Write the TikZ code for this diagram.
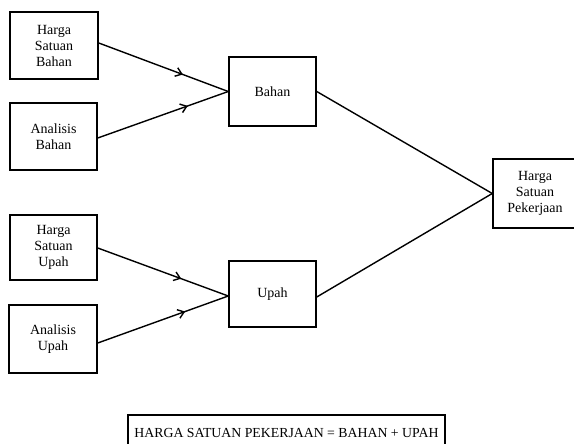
\documentclass[tikz,border=0pt]{standalone}
\usepackage{fontspec}
\setmainfont{Liberation Serif}
\usetikzlibrary{arrows.meta,decorations.markings}
\begin{document}
\begin{tikzpicture}[x=1pt,y=-1pt,
  box/.style={draw, line width=1.5pt, inner sep=0pt, align=center, font=\fontsize{14}{16}\selectfont},
  link/.style={line width=1.4pt},
  midarrow/.style={postaction={decorate}, decoration={markings, mark=at position #1 with {\arrow{Straight Barb[length=6pt,width=9pt,line width=1.4pt]}}}}
]
\useasboundingbox (0,0) rectangle (574,444);
\node[box, minimum width=88pt, minimum height=67pt] (hsb) at (54,45.5) {Harga\\Satuan\\Bahan};
\node[box, minimum width=87pt, minimum height=67pt] (ab) at (53.5,136.5) {Analisis\\Bahan};
\node[box, minimum width=87pt, minimum height=65pt] (hsu) at (53.5,247.5) {Harga\\Satuan\\Upah};
\node[box, minimum width=88pt, minimum height=68pt] (au) at (53,339) {Analisis\\Upah};
\node[box, minimum width=87pt, minimum height=69pt] (bahan) at (272.5,91.5) {Bahan};
\node[box, minimum width=87pt, minimum height=66pt] (upah) at (272.5,294) {Upah};
\node[box, minimum width=84pt, minimum height=69pt] (hsp) at (535,193.5) {Harga\\Satuan\\Pekerjaan};
\node[box, minimum width=317pt, minimum height=36pt, font=\fontsize{13.8}{16}\selectfont] (rumus) at (286.5,433) {HARGA SATUAN PEKERJAAN = BAHAN + UPAH};
\draw[link, midarrow=0.65] ([yshift=2.5pt]hsb.east) -- (bahan.west);
\draw[link, midarrow=0.69] ([yshift=-1.5pt]ab.east) -- (bahan.west);
\draw[link, midarrow=0.64] ([yshift=-0.5pt]hsu.east) -- ([yshift=-2pt]upah.west);
\draw[link, midarrow=0.67] ([yshift=-4pt]au.east) -- ([yshift=-2pt]upah.west);
\draw[link] (bahan.east) -- (hsp.west);
\draw[link] ([yshift=-3pt]upah.east) -- (hsp.west);
\end{tikzpicture}
\end{document}
